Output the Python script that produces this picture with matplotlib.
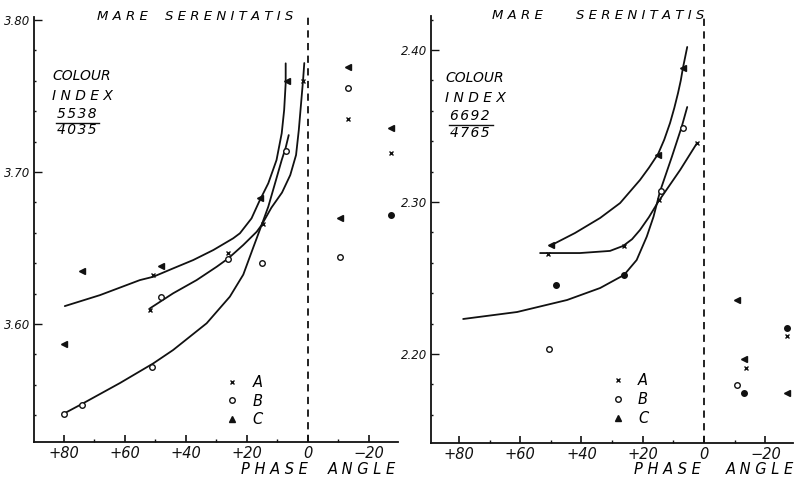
import matplotlib
matplotlib.use("Agg")
import matplotlib.pyplot as plt
from matplotlib.lines import Line2D
from matplotlib.ticker import MultipleLocator

# colour index 5538/4035 (left) -- observed points per series
left_A_phase = [1.6, 14.8, 26.2, 50.8, 51.8, -13.1, -27.2]
left_A_ci = [3.760, 3.666, 3.647, 3.632, 3.609, 3.735, 3.7125]
left_B_phase = [7.2, 26.2, 15.1, 48.2, 51.2, 74.1, 80.0, -13.1, -10.5]
left_B_ci = [3.714, 3.643, 3.640, 3.618, 3.572, 3.547, 3.541, 3.755, 3.644]
left_Bf_phase = [-27.2]
left_Bf_ci = [3.672]
left_C_phase = [6.9, 15.7, 48.2, 74.1, 80.0, -13.1, -27.2, -10.5]
left_C_ci = [3.760, 3.683, 3.638, 3.635, 3.587, 3.769, 3.729, 3.670]

# hand-drawn curves (left)
left_c1_phase = [79.7, 68.2, 55.1, 50.7, 44.2, 37.6, 31.0, 24.5, 22.3, 18.5, 16.0, 13.0,
                 10.3, 8.6, 7.8, 7.3, 7.3]
left_c1_ci = [3.6118, 3.619, 3.6289, 3.6311, 3.6366, 3.6421, 3.6487, 3.6564, 3.6597, 3.6695,
              3.6805, 3.6926, 3.7079, 3.7255, 3.7408, 3.7584, 3.7715]
left_c2_phase = [51.8, 44.2, 36.5, 29.9, 26.1, 21.2, 16.8, 15.2, 13.0, 10.8, 8.6, 7.3, 6.3]
left_c2_ci = [3.6103, 3.6202, 3.6289, 3.6377, 3.6432, 3.652, 3.6607, 3.6651, 3.6772, 3.6925,
              3.7079, 3.716, 3.7243]
left_c3_phase = [79.7, 74.1, 61.6, 50.7, 44.2, 33.2, 25.6, 21.2, 17.9, 15.2, 12.0, 8.5,
                 5.8, 3.9, 3.0, 2.3, 1.6, 1.2]
left_c3_ci = [3.5414, 3.5474, 3.5612, 3.5741, 3.5829, 3.6005, 3.618, 3.6325, 3.6505, 3.6651,
              3.6765, 3.6865, 3.698, 3.7112, 3.7276, 3.7441, 3.7605, 3.7717]

# colour index 6692/4765 (right)
right_A_phase = [50.9, 26.1, 14.7, 2.3, -27.1, -13.7]
right_A_ci = [2.266, 2.271, 2.301, 2.339, 2.2118, 2.1908]
right_B_phase = [50.6, 14.0, 6.9, -10.8]
right_B_ci = [2.2033, 2.307, 2.349, 2.1796]
right_Bf_phase = [48.3, 26.1, -27.1, -13.1]
right_Bf_ci = [2.2454, 2.252, 2.2171, 2.1743]
right_C_phase = [49.9, 15.0, 6.9, -10.8, -13.1, -27.1]
right_C_ci = [2.272, 2.331, 2.388, 2.2355, 2.1967, 2.1743]

right_c1_phase = [50.3, 42.1, 33.9, 27.4, 20.9, 18.0, 15.0, 13.0, 11.1, 9.7, 8.5, 7.6, 6.9, 5.5]
right_c1_ci = [2.2711, 2.2796, 2.2895, 2.2993, 2.3145, 2.3225, 2.3316, 2.341, 2.352, 2.362,
               2.3717, 2.380, 2.3882, 2.402]
right_c2_phase = [53.5, 50.9, 40.5, 30.7, 26.4, 23.5, 20.9, 18.0, 15.0, 7.8, 2.3]
right_c2_ci = [2.2664, 2.2664, 2.2664, 2.2678, 2.2711, 2.2755, 2.2816, 2.290, 2.300, 2.3211,
               2.3388]
right_c3_phase = [78.6, 61.0, 44.7, 33.9, 26.1, 22.0, 18.7, 16.5, 14.4, 10.5, 7.3, 5.5]
right_c3_ci = [2.223, 2.2276, 2.2355, 2.2434, 2.252, 2.2618, 2.2772, 2.2903, 2.3068, 2.3298,
               2.3495, 2.3625]

x_ticks = [80, 60, 40, 20, 0, -20]
x_labels = ["+80", "+60", "+40", "+20", "0", "\u221220"]

ink = "#111111"
plt.rcParams["font.family"] = "DejaVu Sans"
plt.rcParams["font.style"] = "oblique"

fig = plt.figure(figsize=(7.94, 4.80), dpi=100)
ax1 = fig.add_axes([0.0428, 0.0792, 0.4584, 0.8854])
ax2 = fig.add_axes([0.5428, 0.0771, 0.4559, 0.8896])


def style_axes(ax, ylim, xlim, yticks, ylabels):
    ax.set_xlim(*xlim)
    ax.set_ylim(*ylim)
    for s in ["top", "right"]:
        ax.spines[s].set_visible(False)
    for s in ["left", "bottom"]:
        ax.spines[s].set_linewidth(1.3)
        ax.spines[s].set_color(ink)
    ax.set_xticks(x_ticks)
    ax.set_xticklabels(x_labels, fontsize=10.5, style="oblique")
    ax.xaxis.set_minor_locator(MultipleLocator(10))
    ax.set_yticks(yticks)
    ax.set_yticklabels(ylabels, fontsize=8.5, style="oblique")
    ax.yaxis.set_minor_locator(MultipleLocator(0.02))
    ax.tick_params(axis="x", which="major", direction="in", length=5, width=1.2, pad=3, colors=ink)
    ax.tick_params(axis="x", which="minor", direction="in", length=2, width=1.0, colors=ink)
    ax.tick_params(axis="y", which="major", direction="in", length=6, width=1.0, pad=3, colors=ink)
    ax.tick_params(axis="y", which="minor", direction="in", length=1.5, width=1.0, colors=ink)
    ax.axvline(0, color=ink, lw=1.3, ls=(0, (4, 3)))


def draw_points(ax, A, B, Bf, C):
    ax.plot(*A, ls="none", marker="x", ms=3.5, mew=1.0, color=ink)
    ax.plot(*B, ls="none", marker="o", ms=4, mew=1.0, mfc="white", mec=ink)
    ax.plot(*Bf, ls="none", marker="o", ms=4, mew=1.0, color=ink)
    ax.plot(*C, ls="none", marker="<", ms=4, color=ink)


def legend(ax, anchor):
    handles = [
        Line2D([], [], ls="none", marker="x", ms=3.5, mew=1.0, color=ink),
        Line2D([], [], ls="none", marker="o", ms=4, mew=1.0, mfc="white", mec=ink),
        Line2D([], [], ls="none", marker="^", ms=4, color=ink),
    ]
    ax.legend(handles, ["A", "B", "C"], loc="upper left", bbox_to_anchor=anchor,
              frameon=False, handlelength=1.0, handletextpad=0.9, labelspacing=0.25,
              borderpad=0, prop={"size": 10.5, "style": "oblique"})


def labels(ax, num, den, pos, word_x):
    x, y = pos
    hair = "\u200a"
    ax.text(word_x[0], 1.0, "M A R E", transform=ax.transAxes,
            ha="left", va="center", fontsize=9.5)
    ax.text(word_x[1], 1.0, "S E R E N I T A T I S", transform=ax.transAxes,
            ha="left", va="center", fontsize=9.5)
    ax.text(x, y, "COLOUR", transform=ax.transAxes, ha="left", va="center", fontsize=10)
    ax.text(x, y - 0.047, "I N D E X", transform=ax.transAxes, ha="left", va="center", fontsize=10)
    ax.text(x + 0.012, y - 0.09, hair.join(num), transform=ax.transAxes, ha="left", va="center", fontsize=10)
    ax.plot([x + 0.01, x + 0.13], [y - 0.11, y - 0.11], transform=ax.transAxes, color=ink, lw=1.0)
    ax.text(x + 0.012, y - 0.128, hair.join(den), transform=ax.transAxes, ha="left", va="center", fontsize=10)


# left panel
style_axes(ax1, (3.5224, 3.802), (89.8, -29.5), [3.60, 3.70, 3.80], ["3.60", "3.70", "3.80"])
for px, cy in [(left_c1_phase, left_c1_ci), (left_c2_phase, left_c2_ci), (left_c3_phase, left_c3_ci)]:
    ax1.plot(px, cy, color=ink, lw=1.3, solid_capstyle="round", solid_joinstyle="round")
draw_points(ax1, (left_A_phase, left_A_ci), (left_B_phase, left_B_ci),
            (left_Bf_phase, left_Bf_ci), (left_C_phase, left_C_ci))
legend(ax1, (0.505, 0.175))
labels(ax1, "5538", "4035", (0.05, 0.861), (0.173, 0.36))

# right panel
style_axes(ax2, (2.1414, 2.4224), (89.1, -29.0), [2.20, 2.30, 2.40], ["2.20", "2.30", "2.40"])
for px, cy in [(right_c1_phase, right_c1_ci), (right_c2_phase, right_c2_ci), (right_c3_phase, right_c3_ci)]:
    ax2.plot(px, cy, color=ink, lw=1.3, solid_capstyle="round", solid_joinstyle="round")
draw_points(ax2, (right_A_phase, right_A_ci), (right_B_phase, right_B_ci),
            (right_Bf_phase, right_Bf_ci), (right_C_phase, right_C_ci))
legend(ax2, (0.475, 0.18))
labels(ax2, "6692", "4765", (0.04, 0.855), (0.169, 0.40))

# axis title under each panel
for xp, xa in [(0.346, 0.456), (0.840, 0.957)]:
    fig.text(xp, 0.021, "P H A S E", ha="center", va="center", fontsize=10.5)
    fig.text(xa, 0.021, "A N G L E", ha="center", va="center", fontsize=10.5)

fig.savefig("out.png", dpi=100)
